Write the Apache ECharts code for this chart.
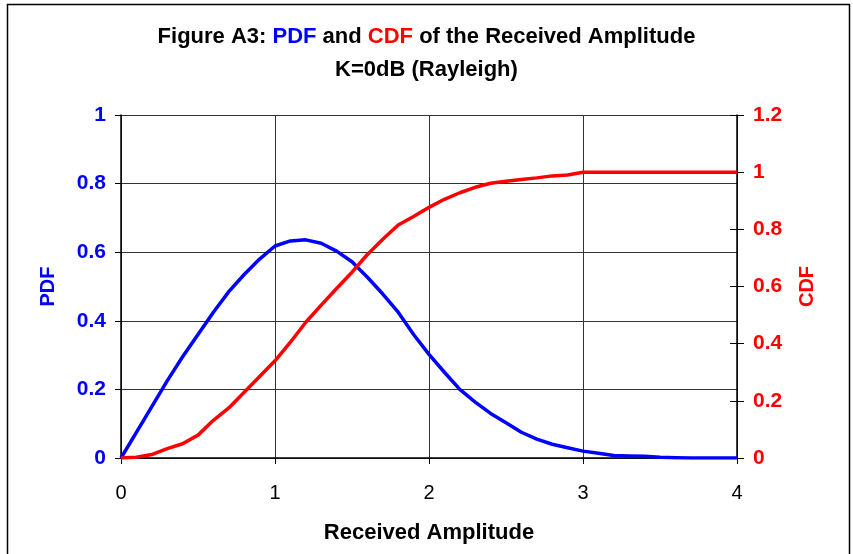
<!DOCTYPE html>
<html>
<head>
<meta charset="utf-8">
<script src="https://cdn.jsdelivr.net/npm/echarts@6/dist/echarts.min.js"></script>
<style>html,body{margin:0;padding:0;background:#fff}#c{width:853px;height:554px}</style>
</head>
<body>
<div id="c"></div>
<script>
const amplitude = [0,0.1,0.2,0.3,0.4,0.5,0.6,0.7,0.8,0.9,1.0,1.1,1.2,1.3,1.4,1.5,1.6,1.7,1.8,1.9,2.0,2.1,2.2,2.3,2.4,2.5,2.6,2.7,2.8,2.9,3.0,3.1,3.2,3.3,3.4,3.5,3.6,3.7,3.8,3.9,4.0];
const pdf = [0,0.075,0.15,0.225,0.295,0.36,0.425,0.485,0.535,0.58,0.618,0.633,0.636,0.626,0.603,0.572,0.527,0.478,0.425,0.36,0.302,0.25,0.2,0.163,0.13,0.103,0.075,0.055,0.04,0.03,0.02,0.014,0.007,0.006,0.005,0.002,0.001,0,0,0,0];
const cdf = [0,0.003,0.012,0.033,0.05,0.08,0.132,0.175,0.23,0.285,0.34,0.405,0.475,0.535,0.593,0.65,0.712,0.765,0.815,0.845,0.877,0.905,0.928,0.947,0.961,0.968,0.974,0.98,0.987,0.99,1,1,1,1,1,1,1,1,1,1,1];
const xTicks = [0,1,2,3,4];
const pdfTicks = [0,0.2,0.4,0.6,0.8,1];
const cdfTicks = [0,0.2,0.4,0.6,0.8,1,1.2];

const FONT = '"Liberation Sans", Arial, sans-serif';
const TS = 22;
const chart = echarts.init(document.getElementById('c'), null, {renderer:'canvas'});
chart.setOption({
  backgroundColor: '#fff',
  animation: false,
  title: {
    text: '{a|Figure A3: }{b|PDF}{a| and }{c|CDF}{a| of the Received Amplitude}\n{a|K=0dB (Rayleigh)}',
    left: 'center', top: 15,
    textStyle: {
      fontFamily: FONT, fontWeight: 'bold', fontSize: TS, lineHeight: 33,
      rich: {
        a: {color:'#000', fontFamily: FONT, fontWeight:'bold', fontSize:TS, lineHeight:33},
        b: {color:'#0000ff', fontFamily: FONT, fontWeight:'bold', fontSize:TS, lineHeight:33},
        c: {color:'#ff0000', fontFamily: FONT, fontWeight:'bold', fontSize:TS, lineHeight:33}
      }
    }
  },
  graphic: [{type:'rect', shape:{x:7.5,y:4.5,width:842,height:620}, style:{fill:'none', stroke:'#000', lineWidth:1.5}, silent:true}],
  grid: {left:121, right:116, top:115, bottom:96, containLabel:false},
  xAxis: {
    type:'value', min:0, max:4, interval:1,
    name:'Received Amplitude', nameLocation:'middle', nameGap:64,
    nameTextStyle:{fontFamily:FONT, fontWeight:'bold', fontSize:22, color:'#000'},
    axisLine:{onZero:false, lineStyle:{color:'#000', width:1.5}},
    axisTick:{show:true, length:6, lineStyle:{color:'#000'}},
    axisLabel:{margin:25, fontFamily:FONT, fontSize:20, color:'#000', formatter:v=>xTicks.includes(v)?String(v):''},
    splitLine:{show:true, lineStyle:{color:'#333', width:1}}
  },
  yAxis: [{
    type:'value', min:0, max:1, interval:0.2, position:'left',
    name:'PDF', nameLocation:'middle', nameGap:63, nameRotate:90,
    nameTextStyle:{fontFamily:FONT, fontWeight:'bold', fontSize:20, color:'#0000ff'},
    axisLine:{show:true, lineStyle:{color:'#000', width:1.5}},
    axisTick:{show:true, length:6, lineStyle:{color:'#000'}},
    axisLabel:{margin:15, fontFamily:FONT, fontWeight:'bold', fontSize:21, color:'#0000ff', formatter:v=>{const t=pdfTicks.find(p=>Math.abs(p-v)<1e-9);return t===undefined?'':String(+t.toFixed(1));}},
    splitLine:{show:true, lineStyle:{color:'#333', width:1}}
  },{
    type:'value', min:0, max:1.2, interval:0.2, position:'right',
    name:'CDF', nameLocation:'middle', nameGap:60, nameRotate:90,
    nameTextStyle:{fontFamily:FONT, fontWeight:'bold', fontSize:20, color:'#ff0000'},
    axisLine:{show:true, lineStyle:{color:'#000', width:1.5}},
    axisTick:{show:true, length:7, lineStyle:{color:'#000'}},
    axisLabel:{margin:16, fontFamily:FONT, fontWeight:'bold', fontSize:21, color:'#ff0000', formatter:v=>{const t=cdfTicks.find(p=>Math.abs(p-v)<1e-9);return t===undefined?'':String(+t.toFixed(1));}},
    splitLine:{show:false}
  },{
    type:'value', min:0, max:1.2, interval:0.2, position:'right',
    axisLine:{show:false},
    axisTick:{show:true, inside:true, length:7, lineStyle:{color:'#000'}},
    axisLabel:{show:false},
    splitLine:{show:false}
  }],
  series: [{
    name:'PDF', type:'line', yAxisIndex:0, showSymbol:false, symbol:'none',
    lineStyle:{color:'#0000ff', width:3.5}, z:3,
    data: amplitude.map((x,i)=>[x,pdf[i]])
  },{
    name:'CDF', type:'line', yAxisIndex:1, showSymbol:false, symbol:'none',
    lineStyle:{color:'#ff0000', width:3.5}, z:3,
    data: amplitude.map((x,i)=>[x,cdf[i]])
  }]
});
</script>
</body>
</html>
